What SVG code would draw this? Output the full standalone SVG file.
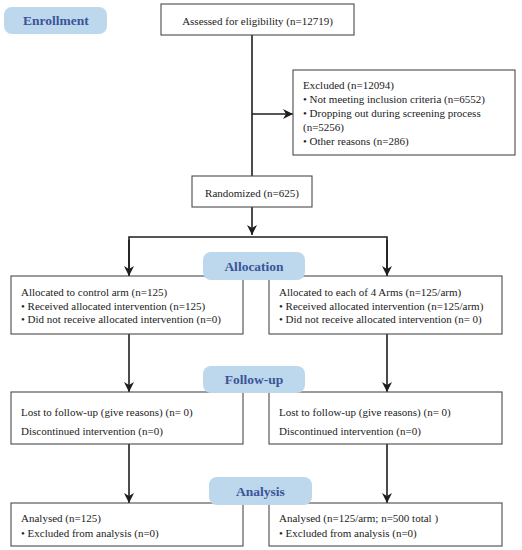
<svg xmlns="http://www.w3.org/2000/svg" width="522" height="550" viewBox="0 0 522 550">
<defs>
<marker id="ah" markerUnits="userSpaceOnUse" markerWidth="11" markerHeight="11" refX="10" refY="5" orient="auto">
<path d="M0,0 L10,5 L0,10 L3,5 z" fill="#1e1e1e"/>
</marker>
</defs>
<style>
.box{fill:#fff;stroke:#4a4a4a;stroke-width:1.1}
.pill{fill:#bdd7ec;stroke:none}
.pt{font-family:"Liberation Serif","Times New Roman",serif;font-weight:bold;font-size:13.5px;fill:#3a5598;text-anchor:middle}
.t{font-family:"Liberation Serif","Times New Roman",serif;font-size:11px;fill:#222}
.c{text-anchor:middle}
.ln{fill:none;stroke:#1e1e1e;stroke-width:1.6}
</style>
<rect width="522" height="550" fill="#fff"/>
<g id="connectors">
<line class="ln" x1="252" y1="35" x2="252" y2="176"/>
<line class="ln" x1="252" y1="114" x2="293" y2="114" marker-end="url(#ah)"/>
<line class="ln" x1="252" y1="207" x2="252" y2="235" marker-end="url(#ah)"/>
<polyline class="ln" points="129,276 129,237 387,237 387,276"/>
<line class="ln" x1="129" y1="240" x2="129" y2="276" marker-end="url(#ah)"/>
<line class="ln" x1="387" y1="240" x2="387" y2="276" marker-end="url(#ah)"/>
<line class="ln" x1="129" y1="334" x2="129" y2="392" marker-end="url(#ah)"/>
<line class="ln" x1="387" y1="334" x2="387" y2="392" marker-end="url(#ah)"/>
<line class="ln" x1="129" y1="444" x2="129" y2="503" marker-end="url(#ah)"/>
<line class="ln" x1="387" y1="444" x2="387" y2="503" marker-end="url(#ah)"/>
</g>
<g id="assessed">
<rect class="box" x="161" y="4" width="193" height="31"/>
<text class="t c" x="257.5" y="25">Assessed for eligibility (n=12719)</text>
</g>
<g id="excluded">
<rect class="box" x="293" y="70" width="222" height="85"/>
<text class="t" x="303" y="89">Excluded (n=12094)</text>
<text class="t" x="303" y="103">• Not meeting inclusion criteria (n=6552)</text>
<text class="t" x="303" y="117">• Dropping out during screening process</text>
<text class="t" x="303" y="131">(n=5256)</text>
<text class="t" x="303" y="145">• Other reasons (n=286)</text>
</g>
<g id="randomized">
<rect class="box" x="192" y="176" width="120" height="31"/>
<text class="t c" x="252" y="197">Randomized (n=625)</text>
</g>
<g id="alloc-control">
<rect class="box" x="11" y="276" width="232" height="58"/>
<text class="t" x="21" y="296">Allocated to control arm (n=125)</text>
<text class="t" x="21" y="310">• Received allocated intervention (n=125)</text>
<text class="t" x="21" y="323">• Did not receive allocated intervention (n=0)</text>
</g>
<g id="alloc-arms">
<rect class="box" x="269" y="276" width="233" height="58"/>
<text class="t" x="279" y="296">Allocated to each of 4 Arms (n=125/arm)</text>
<text class="t" x="279" y="310">• Received allocated intervention (n=125/arm)</text>
<text class="t" x="279" y="323">• Did not receive allocated intervention (n= 0)</text>
</g>
<g id="follow-control">
<rect class="box" x="11" y="392" width="232" height="52"/>
<text class="t" x="21" y="416">Lost to follow-up (give reasons) (n= 0)</text>
<text class="t" x="21" y="435">Discontinued intervention (n=0)</text>
</g>
<g id="follow-arms">
<rect class="box" x="269" y="392" width="233" height="52"/>
<text class="t" x="279" y="416">Lost to follow-up (give reasons) (n= 0)</text>
<text class="t" x="279" y="435">Discontinued intervention (n=0)</text>
</g>
<g id="analysis-control">
<rect class="box" x="11" y="503" width="232" height="43"/>
<text class="t" x="21" y="522">Analysed (n=125)</text>
<text class="t" x="21" y="537">• Excluded from analysis (n=0)</text>
</g>
<g id="analysis-arms">
<rect class="box" x="269" y="503" width="233" height="43"/>
<text class="t" x="279" y="522">Analysed (n=125/arm; n=500 total )</text>
<text class="t" x="279" y="537">• Excluded from analysis (n=0)</text>
</g>
<g id="enrollment-label">
<rect class="pill" x="4" y="7" width="103" height="27" rx="8"/>
<text class="pt" x="56" y="25">Enrollment</text>
</g>
<g id="allocation-label">
<rect class="pill" x="203" y="252" width="102" height="28" rx="8"/>
<text class="pt" x="254" y="271">Allocation</text>
</g>
<g id="followup-label">
<rect class="pill" x="203" y="366" width="102" height="27" rx="8"/>
<text class="pt" x="254" y="384">Follow-up</text>
</g>
<g id="analysis-label">
<rect class="pill" x="209" y="477" width="103" height="28" rx="8"/>
<text class="pt" x="260.5" y="496">Analysis</text>
</g>
</svg>
